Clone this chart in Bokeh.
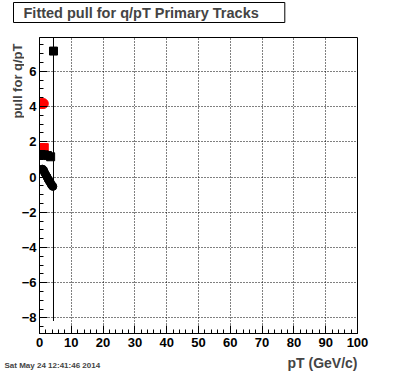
import math
from bokeh.plotting import figure
from bokeh.models import Label, SingleIntervalTicker, Range1d
from bokeh.layouts import column, row
from bokeh.embed import file_html
from bokeh.resources import INLINE

# ---- data ----
blk_circ_x = [0.9, 1.3, 1.6, 2.0, 2.4, 2.7, 3.1, 3.5, 3.8, 4.2]
blk_circ_y = [0.45, 0.38, 0.25, 0.12, 0.0, -0.12, -0.24, -0.35, -0.45, -0.53]
blk_sq_x = [0.5, 1.5, 2.5, 3.5, 4.4]
blk_sq_y = [1.28, 1.26, 1.22, 1.15, 7.15]
red_circ_x = [0.6, 1.2]
red_circ_y = [4.17, 4.17]
red_sq_x = [0.5, 1.5]
red_sq_y = [1.67, 1.67]
err_x = [4.4]
err_lo = [-8.17]
err_hi = [22.4]

title_text = "Fitted pull for q/pT  Primary Tracks"
x_label = "pT (GeV/c)"
y_label = "pull for q/pT"
date_text = "Sat May 24 12:41:46 2014"

FONT = "Liberation Sans"
W = 396
LEFT_W = 24
OVERLAP = 6
MAIN_H = 328


def blank(w, h):
    f = figure(width=w, height=h, output_backend="svg", toolbar_location=None,
               x_range=Range1d(0, w), y_range=Range1d(h, 0),
               x_axis_type=None, y_axis_type=None, min_border=0, title=None,
               frame_align=False)
    f.outline_line_color = None
    f.background_fill_color = "white"
    f.border_fill_color = "white"
    f.xgrid.visible = False
    f.ygrid.visible = False
    return f


# ---- header (title box) ----
head = blank(W, 26)
head.add_layout(Label(x=13, y=12, text=title_text,
                      text_font=FONT, text_font_style="bold", text_font_size="14.5px",
                      text_baseline="middle", text_align="left",
                      padding=dict(left=10, right=22, top=2, bottom=2),
                      border_line_color="black", border_line_width=1,
                      background_fill_color="white"))

# ---- left strip (y label) ----
left = blank(LEFT_W, MAIN_H)
left.add_layout(Label(x=16.5, y=17, text=y_label, angle=math.pi / 2,
                      text_font=FONT, text_font_style="bold", text_font_size="13px",
                      text_baseline="middle", text_align="right"))

# ---- main plot ----
main_w = W - LEFT_W + OVERLAP
p = figure(width=main_w, height=MAIN_H, output_backend="svg", toolbar_location=None,
           x_range=Range1d(0, 100), y_range=Range1d(-8.88, 7.92),
           min_border_left=39 - (LEFT_W - OVERLAP), min_border_right=39,
           min_border_top=11, min_border_bottom=21,
           title=None, frame_align=False,
           styles={"margin-left": f"-{OVERLAP}px"})
p.background_fill_color = "white"
p.border_fill_color = None
p.outline_line_color = "black"
p.outline_line_width = 1

xt = SingleIntervalTicker(interval=10, num_minor_ticks=5)
yt = SingleIntervalTicker(interval=2, num_minor_ticks=4)
p.xaxis.ticker = xt
p.yaxis.ticker = yt
p.xgrid.ticker = xt
p.ygrid.ticker = yt
for g in (p.xgrid, p.ygrid):
    g.grid_line_color = "black"
    g.grid_line_dash = "1 2"
    g.grid_line_width = 1
for ax in (p.xaxis, p.yaxis):
    ax.axis_line_color = "black"
    ax.major_tick_in = 8
    ax.major_tick_out = 0
    ax.minor_tick_in = 4
    ax.minor_tick_out = 0
    ax.major_tick_line_color = "black"
    ax.minor_tick_line_color = "black"
    ax.major_label_text_font = FONT
    ax.major_label_text_font_style = "bold"
    ax.major_label_text_font_size = "13px"
    ax.major_label_text_color = "black"
p.xaxis.major_label_standoff = 4
p.yaxis.major_label_standoff = 3

p.segment(x0=err_x, y0=err_lo, x1=err_x, y1=err_hi, line_color="black", line_width=1)
p.scatter(blk_circ_x, blk_circ_y, marker="circle", size=8, fill_color="black", line_color="black")
p.scatter(red_circ_x, red_circ_y, marker="circle", size=10, fill_color="red", line_color="red")
p.scatter(red_sq_x, red_sq_y, marker="square", size=8, fill_color="red", line_color="red")
p.scatter(blk_sq_x, blk_sq_y, marker="square", size=8, fill_color="black", line_color="black")

# ---- footer (x label and date) ----
foot = blank(W, 18)
foot.add_layout(Label(x=357, y=8, text=x_label,
                      text_font=FONT, text_font_style="bold", text_font_size="14px",
                      text_baseline="middle", text_align="right"))
foot.add_layout(Label(x=4, y=11, text=date_text,
                      text_font=FONT, text_font_style="bold", text_font_size="8px",
                      text_baseline="middle", text_align="left"))

layout = column(head, row(left, p, spacing=0), foot, spacing=0)
open("out.html", "w").write(file_html(layout, INLINE))
